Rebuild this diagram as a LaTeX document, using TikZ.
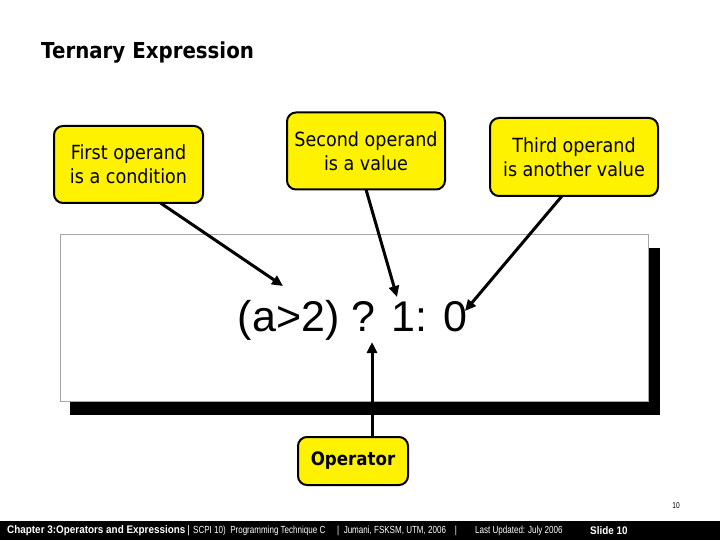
\documentclass[tikz,border=0pt]{standalone}
\usepackage{fontspec}
\setmainfont{DejaVu Sans}[FakeStretch=0.9]
\newfontfamily\arialf{Liberation Sans}
\newfontfamily\footf{Liberation Sans}[FakeStretch=0.78]
\newfontfamily\footb{Liberation Sans}[FakeStretch=0.9]
\usetikzlibrary{arrows.meta}
\begin{document}
\begin{tikzpicture}[x=1pt,y=-1pt,
  callout/.style={draw=black,line width=2pt,fill=yellow,rounded corners=9pt,align=center,
    font=\fontsize{19.5}{24}\selectfont,inner sep=2pt},
  pointer/.style={line width=3pt,-{Triangle[length=11pt,width=10pt]}},
  foot/.style={text=white,anchor=west,inner sep=0pt,font=\footf\fontsize{10.3}{11}\selectfont},
  footbold/.style={foot,font=\footb\bfseries\fontsize{11}{12}\selectfont}]
\useasboundingbox (0,0) rectangle (720,540);
\fill[white] (0,0) rectangle (720,540);
% title
\node[anchor=west,inner sep=0pt,font=\bfseries\fontsize{22}{26}\selectfont] (title) at (41,53) {Ternary Expression};
% main panel with shadow
\fill[black] (70,248) rectangle (660,415);
\draw[fill=white,draw=gray!70,line width=0.6pt] (60,234) rectangle (648,401);
\node[inner sep=0pt,font=\arialf\fontsize{43}{46}\selectfont] (expr) at (352.5,320) {(a>2) ? 1: 0};
% callouts
\node[callout,minimum width=149pt,minimum height=77pt] (b1) at (128.5,164.5) {First operand\\is a condition};
\node[callout,minimum width=158pt,minimum height=77pt] (b2) at (366,151) {Second operand\\is a value};
\node[callout,minimum width=168pt,minimum height=78pt] (b3) at (574,157) {Third operand\\is another value};
\node[callout,minimum width=110pt,minimum height=48pt,font=\bfseries\fontsize{18.5}{22}\selectfont] (op) at (353,461) {Operator};
% arrow tips
\coordinate (t1) at (283,286);
\coordinate (t2) at (397,297);
\coordinate (t3) at (465,311);
\coordinate (t4) at (372,342);
\draw[pointer] ([xshift=32pt,yshift=1pt]b1.south) -- (t1);
\draw[pointer] ([yshift=1pt]b2.south) -- (t2);
\draw[pointer] ([xshift=-12pt,yshift=1pt]b3.south) -- (t3);
\draw[pointer] ([xshift=19pt,yshift=-1pt]op.north) -- (t4);
% page number
\node[inner sep=0pt,font=\footf\fontsize{8.5}{9}\selectfont] (pg) at (676,506) {10};
% footer
\fill[black] (0,521) rectangle (720,540);
\node[footbold] (f1) at (7,531) {Chapter 3:Operators and Expressions\,\mdseries|};
\node[foot] (f2) at (193,531) {SCPI 10)\ \ Programming Technique C};
\node[foot] (f3) at (337,531) {|\ \ Jumani, FSKSM, UTM, 2006\ \ \ \ |};
\node[foot] (f4) at (475,531) {Last Updated: July 2006};
\node[footbold] (f5) at (590,531) {Slide 10};
\end{tikzpicture}
\end{document}
